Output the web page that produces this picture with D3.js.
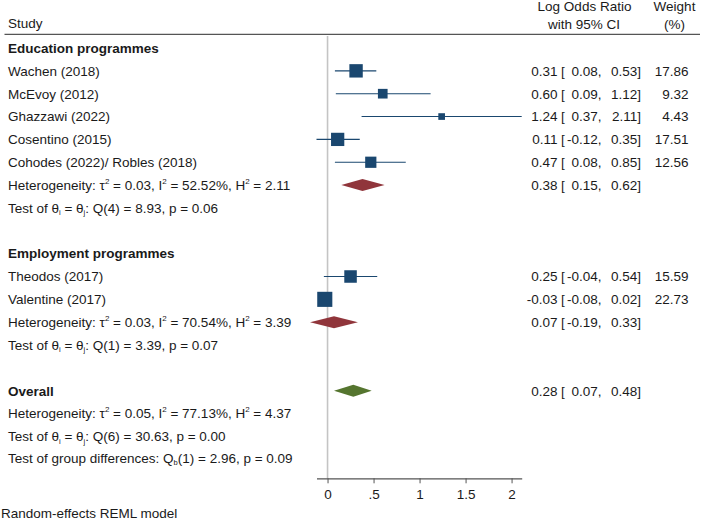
<!DOCTYPE html>
<html>
<head>
<meta charset="utf-8">
<script src="https://cdn.jsdelivr.net/npm/d3@7"></script>
<style>
  html, body { margin: 0; padding: 0; background: #fff; }
  svg { display: block; font-family: "Liberation Sans", Arial, sans-serif; }
</style>
</head>
<body>
<svg id="chart" width="702" height="522"></svg>
<script>
// ---------------- data ----------------
const groupNames = ["Education programmes", "Employment programmes"];
const studies = ["Wachen (2018)", "McEvoy (2012)", "Ghazzawi (2022)", "Cosentino (2015)",
                 "Cohodes (2022)/ Robles (2018)", "Theodos (2017)", "Valentine (2017)"];
const studyGroup = [0, 0, 0, 0, 0, 1, 1];
const estimates = [0.31, 0.60, 1.24, 0.11, 0.47, 0.25, -0.03];
const lowerCI   = [0.08, 0.09, 0.37, -0.12, 0.08, -0.04, -0.08];
const upperCI   = [0.53, 1.12, 2.11, 0.35, 0.85, 0.54, 0.02];
const weights   = [17.86, 9.32, 4.43, 17.51, 12.56, 15.59, 22.73];

const subEst   = [0.38, 0.07];
const subLower = [0.15, -0.19];
const subUpper = [0.62, 0.33];

const overallEst = 0.28, overallLower = 0.07, overallUpper = 0.48;

// heterogeneity: [education, employment, overall]
const tau2 = [0.03, 0.03, 0.05];
const I2   = [52.52, 70.54, 77.13];
const H2   = [2.11, 3.39, 4.37];
const Qdf  = [4, 1, 6];
const Qval = [8.93, 3.39, 30.63];
const Qp   = [0.06, 0.07, 0.00];

const QbDf = 1, QbVal = 2.96, QbP = 0.09;

const tickValues = [0, 0.5, 1, 1.5, 2];
const tickLabels = ["0", ".5", "1", "1.5", "2"];

// ---------------- layout ----------------
const svg = d3.select("#chart");
const FS = 13.5;
const textColor = "#1a1a1a";
const navy = "#1a476f", maroon = "#90353b", green = "#55752f";

const x = d3.scaleLinear()
  .domain([d3.min(lowerCI), d3.max(upperCI)])
  .range([316.5, 521.7]);
const row = d3.scaleLinear().domain([0, 1]).range([48, 70.85]);
const side = d3.scaleSqrt().domain([0, d3.max(weights)]).range([0, 15.1]);

const axisY = 478.3;
const colEst = 557.5, colBr = 561, colLo = 601.5, colHi = 641, colW = 688.5;

const fmt2 = v => d3.format(".2f")(v).replace("\u2212", "-");

// build rows
const rows = [];
let r = 0;
groupNames.forEach((g, gi) => {
  rows.push({type: "group", label: g, i: r++});
  studies.forEach((s, si) => {
    if (studyGroup[si] === gi) rows.push({type: "study", k: si, i: r++});
  });
  rows.push({type: "het", g: gi, i: r++});
  rows.push({type: "test", g: gi, i: r++});
  r++; // blank
});
rows.push({type: "overallHead", i: r++});
rows.push({type: "het", g: 2, i: r++, overall: true});
rows.push({type: "test", g: 2, i: r++});
rows.push({type: "qb", i: r++});

// text helper with sub/superscript segments
function richText(sel, xPos, yPos, segs, opts = {}) {
  const t = sel.append("text")
    .attr("x", xPos).attr("y", yPos)
    .attr("font-size", FS).attr("fill", textColor)
    .attr("font-weight", opts.bold ? "bold" : null)
    .attr("text-anchor", opts.anchor || "start")
    .style("white-space", "pre");
  let pending = 0;
  segs.forEach(s => {
    const seg = typeof s === "string" ? {t: s} : s;
    const ts = t.append("tspan").text(seg.t);
    let dy = pending;
    pending = 0;
    if (seg.sup) { ts.attr("font-size", 8); dy += -6; pending = 6; }
    if (seg.sub) { ts.attr("font-size", 7.5); dy += 2.5; pending = -2.5; }
    if (dy !== 0) ts.attr("dy", dy);
  });
  return t;
}

const base = 4.8; // baseline offset from row centre

// header
svg.append("text").attr("x", 8).attr("y", 28).attr("font-size", FS).attr("fill", textColor).text("Study");
svg.append("text").attr("x", 584.5).attr("y", 11).attr("font-size", FS).attr("fill", textColor)
  .attr("text-anchor", "middle").text("Log Odds Ratio");
svg.append("text").attr("x", 584).attr("y", 28.5).attr("font-size", FS).attr("fill", textColor)
  .attr("text-anchor", "middle").text("with 95% CI");
svg.append("text").attr("x", 674.5).attr("y", 11).attr("font-size", FS).attr("fill", textColor)
  .attr("text-anchor", "middle").text("Weight");
svg.append("text").attr("x", 674.5).attr("y", 28.5).attr("font-size", FS).attr("fill", textColor)
  .attr("text-anchor", "middle").text("(%)");
svg.append("line").attr("x1", 4.5).attr("x2", 700).attr("y1", 34.3).attr("y2", 34.3)
  .attr("stroke", "#555").attr("stroke-width", 1.3);

// zero reference line
svg.append("line").attr("x1", x(0)).attr("x2", x(0)).attr("y1", 36).attr("y2", axisY)
  .attr("stroke", "#c4c4c4").attr("stroke-width", 1.6);

// CI text helper
function ciText(yc, est, lo, hi, w) {
  const y = yc + base;
  const g = svg.append("g").attr("font-size", FS).attr("fill", textColor);
  g.append("text").attr("x", colEst).attr("y", y).attr("text-anchor", "end").text(fmt2(est));
  g.append("text").attr("x", colBr).attr("y", y).text("[");
  g.append("text").attr("x", colLo).attr("y", y).attr("text-anchor", "end").text(fmt2(lo) + ",");
  g.append("text").attr("x", colHi).attr("y", y).attr("text-anchor", "end").text(fmt2(hi) + "]");
  if (w !== undefined) g.append("text").attr("x", colW).attr("y", y).attr("text-anchor", "end").text(fmt2(w));
}

function diamond(yc, lo, est, hi, color) {
  const h = 6;
  const pts = [[x(lo), yc], [x(est), yc - h], [x(hi), yc], [x(est), yc + h]];
  svg.append("path").attr("d", d3.line()(pts) + "Z").attr("fill", color);
}

rows.forEach(d => {
  const yc = row(d.i);
  if (d.type === "group") {
    richText(svg, 8, yc + base, [d.label], {bold: true});
  } else if (d.type === "study") {
    const k = d.k;
    richText(svg, 8, yc + base, [studies[k]]);
    svg.append("line").attr("x1", x(lowerCI[k])).attr("x2", x(upperCI[k]))
      .attr("y1", yc).attr("y2", yc).attr("stroke", navy).attr("stroke-width", 1.1);
    const s = side(weights[k]);
    svg.append("rect").attr("x", x(estimates[k]) - s / 2).attr("y", yc - s / 2)
      .attr("width", s).attr("height", s).attr("fill", navy);
    ciText(yc, estimates[k], lowerCI[k], upperCI[k], weights[k]);
  } else if (d.type === "het") {
    const g = d.g;
    richText(svg, 8, yc + base, [
      "Heterogeneity: τ", {t: "2", sup: true}, " = " + fmt2(tau2[g]) + ", I", {t: "2", sup: true},
      " = " + fmt2(I2[g]) + "%, H", {t: "2", sup: true}, " = " + fmt2(H2[g])
    ]);
    if (g < 2) {
      diamond(yc, subLower[g], subEst[g], subUpper[g], maroon);
      ciText(yc, subEst[g], subLower[g], subUpper[g]);
    }
  } else if (d.type === "test") {
    const g = d.g;
    richText(svg, 8, yc + base, [
      "Test of θ", {t: "i", sub: true}, " = θ", {t: "j", sub: true},
      ": Q(" + Qdf[g] + ") = " + fmt2(Qval[g]) + ", p = " + fmt2(Qp[g])
    ]);
  } else if (d.type === "overallHead") {
    richText(svg, 8, yc + base, ["Overall"], {bold: true});
    diamond(yc, overallLower, overallEst, overallUpper, green);
    ciText(yc, overallEst, overallLower, overallUpper);
  } else if (d.type === "qb") {
    richText(svg, 8, yc - 1.3 + base, [
      "Test of group differences: Q", {t: "b", sub: true},
      "(" + QbDf + ") = " + fmt2(QbVal) + ", p = " + fmt2(QbP)
    ]);
  }
});

// x axis
const axisG = svg.append("g").attr("transform", `translate(0,${axisY})`);
axisG.call(d3.axisBottom(x).tickValues(tickValues)
  .tickFormat((v, i) => tickLabels[i]).tickSize(5).tickSizeOuter(0).tickPadding(6));
axisG.select(".domain").attr("stroke", "#555").attr("stroke-width", 1.2);
axisG.selectAll(".tick line").attr("stroke", "#555");
axisG.selectAll(".tick text").attr("font-size", FS).attr("fill", textColor)
  .attr("font-family", "Liberation Sans, Arial, sans-serif");

// footnote
svg.append("text").attr("x", 1).attr("y", 518).attr("font-size", FS).attr("fill", textColor)
  .text("Random-effects REML model");
</script>
</body>
</html>
